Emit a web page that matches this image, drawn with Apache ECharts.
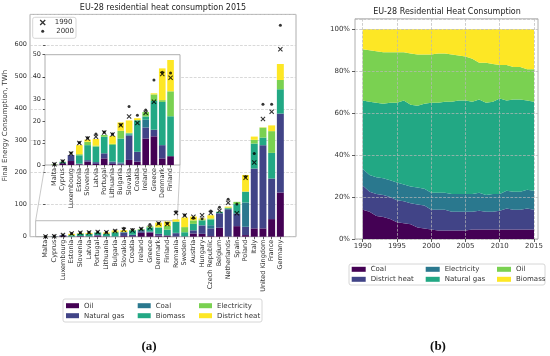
<!DOCTYPE html>
<html><head><meta charset="utf-8">
<script src="https://cdn.jsdelivr.net/npm/echarts@6/dist/echarts.min.js"></script>
<style>html,body{margin:0;padding:0;background:#fff}#c{width:550px;height:356px}</style>
</head><body><div id="c"></div>
<script>
// ---------- Panel (a) data: 2015, TWh ----------
const countries = ['Malta','Cyprus','Luxembourg','Estonia','Slovenia','Latvia','Portugal','Lithuania','Bulgaria','Slovakia','Croatia','Ireland','Greece','Denmark','Finland','Romania','Sweden','Austria','Hungary','Czech Republic','Belgium','Netherlands','Spain','Poland','Italy','United Kingdom','France','Germany'];
const oil          = [0.1,0.8,1.8,0.3,1.5,0.5,3.0,0.5,0.3,2.3,1.5,12,13,3,4,1,1,10,9,2,28,1,33,5,26,26,55,138];
const naturalGas   = [0,0,2.7,0.3,0.7,0.8,2.3,0.8,0.4,11,4.5,5,3,6,0,10,0,10,26,24,45,85,40,26,187,260,127,247];
const coal         = [0,0,0,0,0,0,0,0.3,0.5,0.5,0,3.5,0,0,0,1,0,0,1,10,1,0,0,76,0,0,0,0];
const biomass      = [0,0.5,0,3.8,6.8,7,7.5,7.5,10.8,0.5,14.3,1.5,13,19.6,18.1,35,13,20,15,18,3,3,29,34,78,24,80,76];
const electricity  = [0.2,0.2,0,0.5,1.5,0.5,0.8,0.5,3.5,0.3,0,2,3,0.8,11.3,0,16,11,3,3,1,2,7,0,12,31,68,29];
const districtHeat = [0,0,0,4.1,1.0,3.0,0,3.5,3.8,5.6,0.9,0,0.5,14.4,14.2,7,30,12,3,10,0,3,0,52,10,1,18,50];
const cons1990     = [0.3,1.6,5.2,10.0,12.0,12.8,14.7,13.8,18.0,22.0,19.0,23.7,28.7,41.3,39.5,74,66,62,67,74,81,106,73,184,232,368,391,586];
const cons2000     = [0.4,1.8,5.4,10.2,12.3,14.0,15.0,14.0,18.3,26.5,22.5,24.9,38.5,42.0,41.7,78,68,58,56,80,92,117,102,188,260,414,414,661];
const insetCount = 15;
const mainYTicks = {min:0, max:695, interval:100};
const insetYTicks = {min:0, max:50, interval:10};

// ---------- Panel (b) data: shares, % ----------
const years = ['1990','1991','1992','1993','1994','1995','1996','1997','1998','1999','2000','2001','2002','2003','2004','2005','2006','2007','2008','2009','2010','2011','2012','2013','2014','2015'];
const shareCoal     = [14,13,11,10.5,9.5,8,7.5,7,5.5,5,4.5,4,4,4,4,4,4.5,4.5,4.5,4.5,4.5,4.5,4.5,4.5,4.5,4.5];
const shareDH       = [11.5,9.5,10.5,10.5,10.5,10.5,10.5,10,11,11,9.5,10,10,9,9,9,8.5,9,8.5,8.5,9,10,9.5,9.5,10,9.5];
const shareElec     = [8,8,8,8,8,8.5,8,8,8,8,8,8,8,8.5,8.5,8.5,8.5,8.5,8,8.5,8,8.5,8.5,8.5,9,9];
const shareGas      = [32.5,35,35.5,35.5,37,38,40,39,39,40.5,43,43,43.5,44,44.5,44.5,44,44.5,44,44,45.5,43,44,44,42.5,42.5];
const shareOil      = [24.5,24.5,24.5,24.5,24,24,23,24.5,24.5,23.5,23,23.5,23,22.5,21.5,21,20.5,17.5,19,18,16,17,15.5,15.5,15,15.5];
const shareBiomass  = [9.5,10,10.5,11,11,11,11,11.5,12,12,12,11.5,11.5,12,12.5,13,14,16,16,16.5,17,17,18,18,19,19];

const V = ['#440154','#414487','#2a788e','#22a884','#7ad151','#fde725'];
const FONT = 'DejaVu Sans';
const TXT = '#333';
const CROSS = 'path://M0,1.5L1.5,0L5,3.5L8.5,0L10,1.5L6.5,5L10,8.5L8.5,10L5,6.5L1.5,10L0,8.5L3.5,5Z';

const aSeries = [['Oil',oil],['Natural gas',naturalGas],['Coal',coal],['Biomass',biomass],['Electricity',electricity],['District heat',districtHeat]];
const bSeries = [['Coal',shareCoal],['District heat',shareDH],['Electricity',shareElec],['Natural gas',shareGas],['Oil',shareOil],['Biomass',shareBiomass]];

const series = [];
aSeries.forEach((s,i)=>{
  series.push({type:'bar',name:s[0],xAxisIndex:1,yAxisIndex:1,stack:'main',data:s[1],barWidth:'80%',itemStyle:{color:V[i]}});
});
series.push({type:'scatter',name:'1990',xAxisIndex:1,yAxisIndex:1,data:cons1990,symbol:CROSS,symbolSize:5,itemStyle:{color:'#000'},z:4});
series.push({type:'scatter',name:'2000',xAxisIndex:1,yAxisIndex:1,data:cons2000,symbol:'circle',symbolSize:3,itemStyle:{color:'#000'},z:4});
aSeries.forEach((s,i)=>{
  series.push({type:'bar',name:s[0],xAxisIndex:3,yAxisIndex:3,stack:'inset',data:s[1].slice(0,insetCount),barWidth:'80%',itemStyle:{color:V[i]},zlevel:1});
});
series.push({type:'scatter',name:'1990',xAxisIndex:3,yAxisIndex:3,data:cons1990.slice(0,insetCount),symbol:CROSS,symbolSize:5,itemStyle:{color:'#000'},zlevel:1,z:4});
series.push({type:'scatter',name:'2000',xAxisIndex:3,yAxisIndex:3,data:cons2000.slice(0,insetCount),symbol:'circle',symbolSize:3,itemStyle:{color:'#000'},zlevel:1,z:4});
bSeries.forEach((s,i)=>{
  series.push({type:'line',name:s[0],xAxisIndex:5,yAxisIndex:5,stack:'share',data:s[1],symbol:'none',showSymbol:false,
    lineStyle:{width:0},areaStyle:{color:V[i],opacity:1},itemStyle:{color:V[i]}});
});

const tickStyle = {color:TXT,width:0.8};
const labelStyle = {fontFamily:FONT,fontSize:6.5,color:TXT};

function legendCol(names, colors, left, top, w){
  return {orient:'vertical',left:left,top:top,padding:0,itemGap:0,itemWidth:w,itemHeight:5,icon:'rect',selectedMode:false,
    textStyle:{fontFamily:FONT,fontSize:7,color:TXT,lineHeight:10},
    data:names.map((n,i)=>({name:n,itemStyle:{color:colors[i]}}))};
}

const graphic = [
  {type:'rect',shape:{x:32.7,y:17.3,width:43.3,height:21,r:2},style:{fill:'#fff',stroke:'#ccc',lineWidth:0.8},z:1},
  {type:'rect',shape:{x:63,y:299,width:199,height:23,r:2},style:{fill:'#fff',stroke:'#ccc',lineWidth:0.8},z:1},
  {type:'rect',shape:{x:349,y:264,width:196,height:21,r:2},style:{fill:'#fff',stroke:'#ccc',lineWidth:0.8},z:1},
  {type:'text',x:163,y:8,style:{text:'EU-28 residential heat consumption 2015',fontFamily:FONT,fontSize:8,fill:'#222',align:'center',verticalAlign:'middle'}},
  {type:'text',x:447,y:12,style:{text:'EU-28 Residential Heat Consumption',fontFamily:FONT,fontSize:8,fill:'#222',align:'center',verticalAlign:'middle'}},
  {type:'text',x:149,y:347,style:{text:'(a)',fontFamily:'Liberation Serif',fontSize:13,fontWeight:'bold',fill:'#111',align:'center',verticalAlign:'middle'}},
  {type:'text',x:438,y:347,style:{text:'(b)',fontFamily:'Liberation Serif',fontSize:13,fontWeight:'bold',fill:'#111',align:'center',verticalAlign:'middle'}}
];

const option = {
  animation:false,
  backgroundColor:'#fff',
  grid:[
    {left:30,top:14.4,width:266,height:222.3,show:true,borderColor:'#999',borderWidth:0.8,backgroundColor:'transparent'},
    {left:41.2,top:14.4,width:243.5,height:222.3},
    {left:45,top:54.7,width:135,height:110.3,show:true,backgroundColor:'#fff',borderColor:'#999',borderWidth:0.8,zlevel:1},
    {left:50.3,top:54.7,width:124.4,height:110.3,zlevel:1},
    {left:355,top:18.8,width:183,height:220.2,show:true,borderColor:'#999',borderWidth:0.8,backgroundColor:'transparent'},
    {left:362.7,top:18.8,width:171.3,height:220.2}
  ],
  xAxis:[
    {gridIndex:0,type:'value',min:-1.79,max:28.79,show:false},
    {gridIndex:1,type:'category',data:countries,axisLine:{show:false},
      axisTick:{show:true,alignWithLabel:true,length:2.5,lineStyle:tickStyle},
      axisLabel:Object.assign({rotate:90,interval:0,margin:3},labelStyle)},
    {gridIndex:2,type:'value',min:0,max:1,show:false,zlevel:1},
    {gridIndex:3,type:'category',data:countries.slice(0,insetCount),axisLine:{show:false},zlevel:1,
      axisTick:{show:true,alignWithLabel:true,length:2.5,lineStyle:tickStyle},
      axisLabel:Object.assign({rotate:90,interval:0,margin:3},labelStyle)},
    {gridIndex:4,type:'value',min:0,max:1,show:false},
    {gridIndex:5,type:'category',data:years,boundaryGap:false,axisLine:{show:false},z:5,
      axisTick:{show:true,interval:4,length:3,lineStyle:tickStyle},
      axisLabel:Object.assign({interval:4,margin:4},labelStyle,{fontSize:7}),
      splitLine:{show:true,interval:4,lineStyle:{type:'dashed',color:'#b8b8b8',width:0.7}}}
  ],
  yAxis:[
    {gridIndex:0,type:'value',min:mainYTicks.min,max:mainYTicks.max,interval:mainYTicks.interval,axisLine:{show:false},
      axisTick:{show:true,length:2.5,lineStyle:tickStyle},axisLabel:Object.assign({margin:3,showMaxLabel:false},labelStyle),
      splitLine:{show:true,lineStyle:{type:'dashed',color:'#c8c8c8',width:0.7}},
      name:'Final Energy Consumption, TWh',nameLocation:'middle',nameGap:21,nameRotate:90,
      nameTextStyle:{fontFamily:FONT,fontSize:7,color:TXT}},
    {gridIndex:1,type:'value',min:mainYTicks.min,max:mainYTicks.max,show:false},
    {gridIndex:2,type:'value',min:insetYTicks.min,max:insetYTicks.max,interval:insetYTicks.interval,axisLine:{show:false},zlevel:1,
      axisTick:{show:true,length:2.5,lineStyle:tickStyle},axisLabel:Object.assign({margin:4},labelStyle),splitLine:{show:false}},
    {gridIndex:3,type:'value',min:insetYTicks.min,max:insetYTicks.max,show:false},
    {gridIndex:4,type:'value',min:0,max:105,interval:20,axisLine:{show:false},z:5,
      axisTick:{show:true,length:3,lineStyle:tickStyle},axisLabel:Object.assign({margin:5,formatter:'{value}%',showMaxLabel:false},labelStyle,{fontSize:7}),
      splitLine:{show:true,lineStyle:{type:'dashed',color:'#b8b8b8',width:0.7}}},
    {gridIndex:5,type:'value',min:0,max:105,show:false}
  ],
  legend:[
    legendCol(['Oil','Natural gas'],[V[0],V[1]],66,300.7,13),
    legendCol(['Coal','Biomass'],[V[2],V[3]],137.7,300.7,13),
    legendCol(['Electricity','District heat'],[V[4],V[5]],199,300.7,13),
    legendCol(['Coal','District heat'],[V[0],V[1]],351.7,264.3,14),
    legendCol(['Electricity','Natural gas'],[V[2],V[3]],425.7,264.3,14),
    legendCol(['Oil','Biomass'],[V[4],V[5]],497,264.3,14),
    {orient:'vertical',left:39.7,top:19,padding:0,itemWidth:6,itemHeight:6,selectedMode:false,
      textStyle:{fontFamily:FONT,fontSize:7,color:TXT,padding:[0,0,0,4]},
      data:[{name:'1990',icon:CROSS,itemStyle:{color:'#000'}}]},
    {orient:'vertical',left:41.2,top:27.7,padding:0,itemWidth:3,itemHeight:3,selectedMode:false,
      textStyle:{fontFamily:FONT,fontSize:7,color:TXT,padding:[0,0,0,7]},
      data:[{name:'2000',icon:'circle',itemStyle:{color:'#000'}}]}
  ],
  graphic:graphic,
  series:series
};

const chart = echarts.init(document.getElementById('c'));
chart.setOption(option);

// zoom indicator rectangle and connectors
const r0 = chart.convertToPixel({xAxisIndex:0,yAxisIndex:0},[-1.14,0]);
const r1 = chart.convertToPixel({xAxisIndex:0,yAxisIndex:0},[15.14,insetYTicks.max]);
const i0 = chart.convertToPixel({xAxisIndex:2,yAxisIndex:2},[0,0]);
const i1 = chart.convertToPixel({xAxisIndex:2,yAxisIndex:2},[1,0]);
graphic.push({type:'rect',shape:{x:r0[0],y:r1[1],width:r1[0]-r0[0],height:r0[1]-r1[1]},style:{fill:'none',stroke:'#aaa',lineWidth:0.8},z:1});
graphic.push({type:'line',shape:{x1:r0[0],y1:r1[1],x2:i0[0],y2:i0[1]},style:{stroke:'#bbb',lineWidth:0.8},z:1});
graphic.push({type:'line',shape:{x1:r1[0],y1:r1[1],x2:i1[0],y2:i1[1]},style:{stroke:'#bbb',lineWidth:0.8},z:1});
chart.setOption({graphic:graphic});
</script>
</body></html>
